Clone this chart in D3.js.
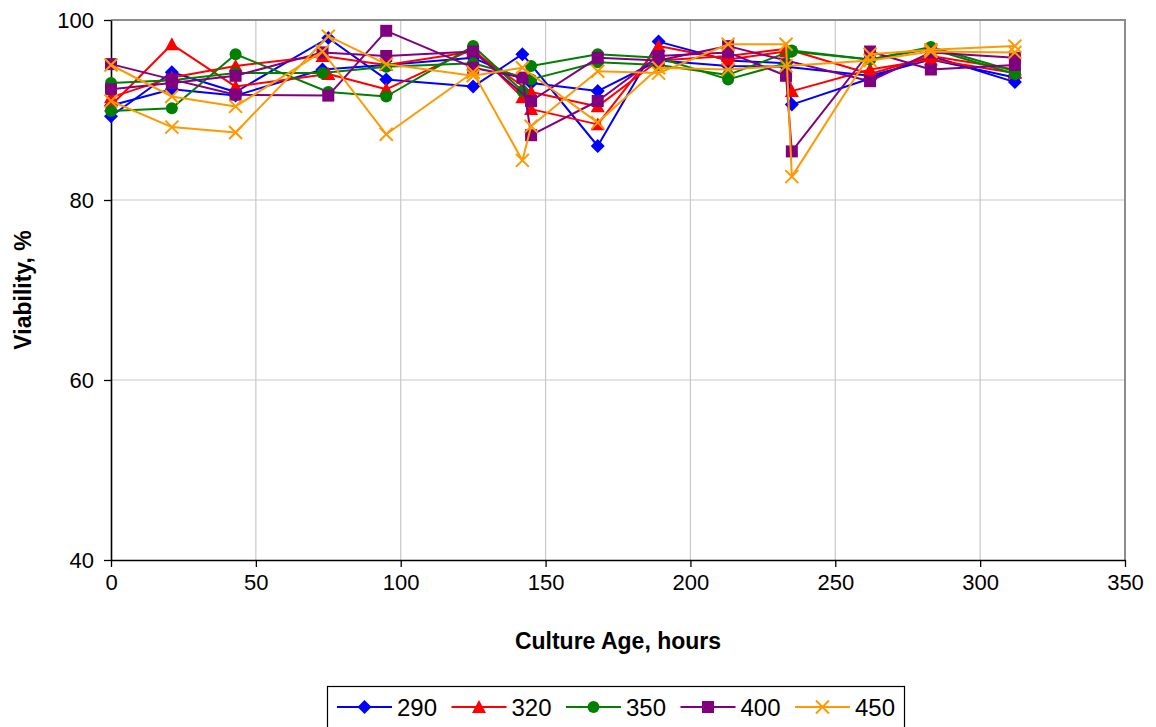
<!DOCTYPE html>
<html>
<head>
<meta charset="utf-8">
<script src="https://cdn.jsdelivr.net/npm/d3@7"></script>
<style>
  html, body { margin: 0; padding: 0; background: #fff; }
  svg { display: block; font-family: "Liberation Sans", Arial, sans-serif; }
</style>
</head>
<body>
<svg id="chart" width="1156" height="727"></svg>
<script>
// Sampling times (hours); null in a series means no sample at that time.
const hours = [0, 21, 43, 73, 75, 95, 125, 142, 145, 168, 189, 213, 233, 235, 262, 283, 312];

// Viability (%) per condition, two replicate cultures each (a, b)
const v290a = [89.3, 94.2, 92.0, null, 98.0, 93.4, 92.6, 96.2, null, 86.0, 97.6, 95.5, 95.2, 90.6, 93.5, 96.0, 93.1];
const v290b = [90.5, 92.3, 91.6, 94.5, null, 95.0, 95.8, null, 93.0, 92.1, 95.5, 94.9, 94.8, null, 93.8, 95.6, 93.6];
const v320a = [90.5, 97.3, 92.6, null, 94.0, 92.3, 96.8, 91.4, 90.1, 88.4, 97.1, 95.6, 96.5, 92.1, 94.5, 95.6, 94.1];
const v320b = [91.4, 93.6, 94.9, 96.0, null, 95.0, 96.5, null, 92.0, 90.4, 95.5, 96.0, 96.8, null, 94.0, 96.0, 94.5];
const v350a = [89.9, 90.2, 96.2, null, 92.0, 91.5, 97.1, 92.1, 94.9, 96.2, 95.8, 93.4, 95.2, 96.5, 95.6, 97.0, 94.3];
const v350b = [93.0, 93.3, 94.1, 94.1, null, 94.8, 95.2, null, 93.4, 95.3, 95.0, 93.9, null, 96.6, 95.6, 96.8, 94.0];
const v400a = [95.1, 93.4, 91.7, null, 91.6, 98.8, 94.7, 93.6, 87.2, 91.0, 96.0, 96.4, 93.8, 85.4, 96.5, 94.5, 95.0];
const v400b = [92.3, 93.0, 93.8, 96.4, null, 96.0, 96.5, null, 91.0, 95.8, 95.5, 97.1, null, null, 93.2, 96.4, 95.8];
const v450a = [95.0, 91.5, 90.4, 96.5, null, 87.3, 94.2, 84.4, 88.2, 94.3, 94.1, 97.3, 97.3, 82.6, 96.2, 96.7, 97.1];
const v450b = [91.0, 88.1, 87.5, null, 98.2, 95.1, 93.8, 94.7, null, 88.6, 94.7, 94.5, 94.9, null, 95.5, 96.5, 96.4];

const legendNames = ["290", "320", "350", "400", "450"];
const seriesColors = ["#0000ff", "#ff0000", "#008000", "#800080", "#ff9900"];
const seriesShapes = ["diamond", "triangle", "circle", "square", "cross"];
const replicates = [[v290a, v290b], [v320a, v320b], [v350a, v350b], [v400a, v400b], [v450a, v450b]];

const xTicks = [0, 50, 100, 150, 200, 250, 300, 350];
const yTicks = [40, 60, 80, 100];

const svg = d3.select("#chart");
const plot = { left: 111, right: 1125, top: 20, bottom: 560 };

const x = d3.scaleLinear().domain([0, 350]).range([plot.left, plot.right]);
const y = d3.scaleLinear().domain([40, 100]).range([plot.bottom, plot.top]);

// gridlines
const grid = svg.append("g");
grid.selectAll("line.vg").data(xTicks.slice(1, -1)).join("line")
  .attr("x1", d => x(d)).attr("x2", d => x(d))
  .attr("y1", plot.top).attr("y2", plot.bottom)
  .attr("stroke", "#c8c8c8").attr("stroke-width", 1.2);
grid.selectAll("line.hg").data(yTicks.slice(1, -1)).join("line")
  .attr("x1", plot.left).attr("x2", plot.right)
  .attr("y1", d => y(d)).attr("y2", d => y(d))
  .attr("stroke", "#c8c8c8").attr("stroke-width", 1.2);

// plot frame (top/right)
svg.append("path")
  .attr("d", `M${plot.left},${plot.top}H${plot.right}V${plot.bottom}`)
  .attr("fill", "none").attr("stroke", "#8c8c8c").attr("stroke-width", 2);

// axes
const xAxis = d3.axisBottom(x).tickValues(xTicks).tickSizeInner(7).tickSizeOuter(0).tickPadding(7);
const yAxis = d3.axisLeft(y).tickValues(yTicks).tickSizeInner(7).tickSizeOuter(0).tickPadding(10);

const gx = svg.append("g").attr("transform", `translate(0,${plot.bottom})`).call(xAxis);
const gy = svg.append("g").attr("transform", `translate(${plot.left},0)`).call(yAxis);
[gx, gy].forEach(g => {
  g.select(".domain").attr("stroke", "#000").attr("stroke-width", 1.6);
  g.selectAll(".tick line").attr("stroke", "#000").attr("stroke-width", 1.3);
  g.selectAll(".tick text").attr("fill", "#000")
    .style("font-size", "22px").style("font-family", "'Liberation Sans', Arial, sans-serif");
});

// axis titles
svg.append("text")
  .attr("x", (plot.left + plot.right) / 2).attr("y", 649)
  .attr("text-anchor", "middle")
  .style("font-size", "23px").style("font-weight", "bold")
  .text("Culture Age, hours");
svg.append("text")
  .attr("transform", `translate(31,${(plot.top + plot.bottom) / 2}) rotate(-90)`)
  .attr("text-anchor", "middle")
  .style("font-size", "23px").style("font-weight", "bold")
  .text("Viability, %");

// marker drawing
function marker(g, shape, color, cx, cy) {
  if (shape === "diamond") {
    const r = 7;
    g.append("path").attr("d", `M${cx},${cy - r}L${cx + r},${cy}L${cx},${cy + r}L${cx - r},${cy}Z`).attr("fill", color);
  } else if (shape === "triangle") {
    const r = 7;
    g.append("path").attr("d", `M${cx},${cy - r}L${cx + r},${cy + r * 0.85}L${cx - r},${cy + r * 0.85}Z`).attr("fill", color);
  } else if (shape === "circle") {
    g.append("circle").attr("cx", cx).attr("cy", cy).attr("r", 6).attr("fill", color);
  } else if (shape === "square") {
    g.append("rect").attr("x", cx - 6).attr("y", cy - 6).attr("width", 12).attr("height", 12).attr("fill", color);
  } else {
    const r = 6.5;
    g.append("path").attr("d", `M${cx - r},${cy - r}L${cx + r},${cy + r}M${cx - r},${cy + r}L${cx + r},${cy - r}`)
      .attr("stroke", color).attr("stroke-width", 2).attr("fill", "none");
  }
}

const line = d3.line().x(d => x(d.t)).y(d => y(d.v));

const seriesG = svg.append("g");
replicates.forEach((reps, i) => {
  reps.forEach(vals => {
    const pts = hours.map((t, j) => ({ t, v: vals[j] })).filter(d => d.v !== null);
    const g = seriesG.append("g");
    g.append("path").datum(pts).attr("d", line)
      .attr("fill", "none").attr("stroke", seriesColors[i]).attr("stroke-width", 2)
      .attr("stroke-linejoin", "round");
    pts.forEach(d => marker(g, seriesShapes[i], seriesColors[i], x(d.t), y(d.v)));
  });
});

// legend
const lg = svg.append("g");
lg.append("rect").attr("x", 327.5).attr("y", 686.5).attr("width", 577).attr("height", 50)
  .attr("fill", "#fff").attr("stroke", "#000").attr("stroke-width", 1.2);
legendNames.forEach((name, i) => {
  const x0 = 337 + i * 114.5;
  lg.append("line").attr("x1", x0).attr("x2", x0 + 55).attr("y1", 707).attr("y2", 707)
    .attr("stroke", seriesColors[i]).attr("stroke-width", 2);
  marker(lg, seriesShapes[i], seriesColors[i], x0 + 27.5, 707);
  lg.append("text").attr("x", x0 + 60).attr("y", 716)
    .style("font-size", "24px").text(name);
});
</script>
</body>
</html>
